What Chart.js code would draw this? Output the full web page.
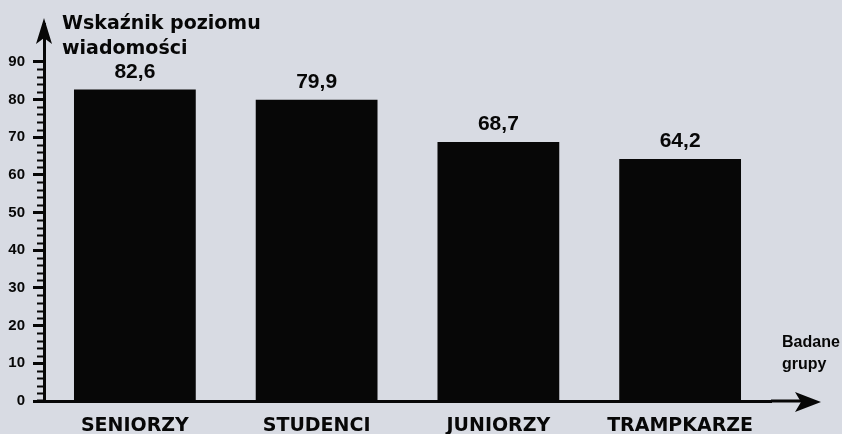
<!DOCTYPE html>
<html lang="pl">
<head>
<meta charset="utf-8">
<title>Wskaźnik poziomu wiadomości</title>
<script src="https://cdn.jsdelivr.net/npm/chart.js@4/dist/chart.umd.min.js"></script>
<style>
	html, body { margin: 0; padding: 0; background: #d8dbe3; }
	canvas { display: block; }
</style>
</head>
<body>
<canvas id="chart" width="842" height="434"></canvas>
<script>
// data
const categories = ['SENIORZY', 'STUDENCI', 'JUNIORZY', 'TRAMPKARZE'];
const values = [82.6, 79.9, 68.7, 64.2];
const yTickValues = [0, 10, 20, 30, 40, 50, 60, 70, 80, 90];
const titleLines = ['Wskaźnik poziomu', 'wiadomości'];
const xAxisNameLines = ['Badane', 'grupy'];

const INK = '#070707';
const BG = '#d8dbe3';

function fmtPl(v) {
	return v.toFixed(1).replace('.', ',');
}

// background, arrows, minor ticks, value labels, axis names
const decorPlugin = {
	id: 'decor',
	beforeDraw(chart) {
		const { ctx, width, height } = chart;
		ctx.save();
		ctx.fillStyle = BG;
		ctx.fillRect(0, 0, width, height);
		ctx.restore();
	},
	afterDatasetsDraw(chart) {
		const { ctx } = chart;
		const meta = chart.getDatasetMeta(0);
		ctx.save();
		ctx.fillStyle = INK;
		ctx.font = 'bold 21px "Liberation Sans", Arial, sans-serif';
		ctx.textAlign = 'center';
		ctx.textBaseline = 'alphabetic';
		meta.data.forEach((bar, i) => {
			ctx.fillText(fmtPl(values[i]), bar.x, bar.y - 12);
		});
		ctx.restore();
	},
	afterDraw(chart) {
		const { ctx, chartArea } = chart;
		const y = chart.scales.y;
		const left = chartArea.left;
		const bottom = chartArea.bottom;
		ctx.save();
		ctx.fillStyle = INK;
		ctx.strokeStyle = INK;

		// minor ticks every 2 units
		ctx.lineWidth = 2;
		ctx.beginPath();
		const topTick = yTickValues[yTickValues.length - 1];
		for (let v = 2; v < topTick; v += 2) {
			if (v % 10 === 0) continue;
			const py = Math.round(y.getPixelForValue(v)) + 0.5;
			ctx.moveTo(left - 7, py);
			ctx.lineTo(left, py);
		}
		ctx.stroke();

		// y axis arrow
		ctx.lineWidth = 3;
		ctx.beginPath();
		ctx.moveTo(left, chartArea.top + 2);
		ctx.lineTo(left, 26);
		ctx.stroke();
		ctx.beginPath();
		ctx.moveTo(left, 18);
		ctx.lineTo(left + 8, 44);
		ctx.lineTo(left, 38);
		ctx.lineTo(left - 8, 44);
		ctx.closePath();
		ctx.fill();

		// x axis: stub to the left and arrow to the right
		ctx.beginPath();
		ctx.moveTo(left - 7, bottom);
		ctx.lineTo(left, bottom);
		ctx.moveTo(chartArea.right, bottom);
		ctx.lineTo(805, bottom);
		ctx.stroke();
		ctx.beginPath();
		ctx.moveTo(821, bottom + 1);
		ctx.lineTo(795, bottom - 9);
		ctx.lineTo(801, bottom + 1);
		ctx.lineTo(795, bottom + 11);
		ctx.closePath();
		ctx.fill();

		// axis names
		ctx.textAlign = 'left';
		ctx.textBaseline = 'alphabetic';
		ctx.font = 'bold 19px "DejaVu Sans", sans-serif';
		ctx.fillText(titleLines[0], left + 18, 29);
		ctx.fillText(titleLines[1], left + 18, 54);
		ctx.font = 'bold 16px "Liberation Sans", Arial, sans-serif';
		ctx.fillText(xAxisNameLines[0], chartArea.right + 11, 347);
		ctx.fillText(xAxisNameLines[1], chartArea.right + 11, 369);
		ctx.restore();
	},
};

function main() {
	const canvas = document.getElementById('chart');
	if (!canvas) return;

	new Chart(canvas, {
		type: 'bar',
		data: {
			labels: categories,
			datasets: [{
				data: values,
				backgroundColor: INK,
				borderWidth: 0,
				barPercentage: 0.67,
				categoryPercentage: 1,
			}],
		},
		options: {
			responsive: false,
			animation: false,
			layout: { padding: { top: 24, right: 71, left: 0, bottom: 0 } },
			plugins: {
				legend: { display: false },
				tooltip: { enabled: false },
			},
			scales: {
				x: {
					grid: { display: false },
					border: { display: true, color: INK, width: 3 },
					ticks: {
						color: INK,
						padding: 6,
						maxRotation: 0,
						font: { family: '"DejaVu Sans", sans-serif', weight: 'bold', size: 19 },
					},
					afterFit(scale) { scale.height = 33; },
				},
				y: {
					min: 0,
					max: 100,
					afterBuildTicks(scale) {
						scale.ticks = yTickValues.map((v) => ({ value: v }));
					},
					grid: {
						drawOnChartArea: false,
						drawTicks: true,
						tickLength: 11,
						tickWidth: 3,
						tickColor: INK,
					},
					border: { display: true, color: INK, width: 3 },
					ticks: {
						color: INK,
						padding: 8,
						font: { family: '"Liberation Sans", Arial, sans-serif', weight: 'bold', size: 15 },
					},
					afterFit(scale) { scale.width = 44; },
				},
			},
		},
		plugins: [decorPlugin],
	});
}

main();
</script>
</body>
</html>
